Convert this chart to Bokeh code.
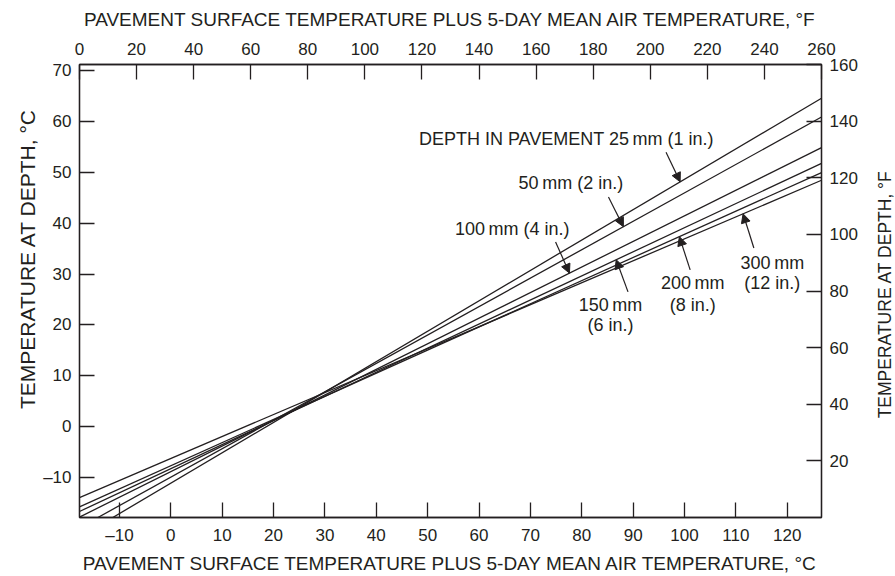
import numpy as np
from bokeh.plotting import figure
from bokeh.layouts import row
from bokeh.models import Range1d, LinearAxis, FixedTicker, Arrow, NormalHead
from bokeh.embed import file_html
from bokeh.resources import INLINE
from bokeh.core.properties import value

# ---------------- data (°C) ----------------
depths_mm = [25, 50, 100, 150, 200, 300]
# each depth line: start and end points (surface temp °C, temp at depth °C)
line_x_start = [-11.3, -14.2, -17.78, -17.78, -17.78, -17.78]
line_y_start = [-17.78, -17.78, -17.7, -16.6, -15.7, -13.86]
line_x_end = [126.67, 126.67, 126.67, 126.67, 126.67, 126.67]
line_y_end = [64.5, 60.8, 54.8, 51.7, 49.9, 48.4]

bottom_ticks_c = [-10, 0, 10, 20, 30, 40, 50, 60, 70, 80, 90, 100, 110, 120]
left_ticks_c = [-10, 0, 10, 20, 30, 40, 50, 60, 70]
top_ticks_f = [0, 20, 40, 60, 80, 100, 120, 140, 160, 180, 200, 220, 240, 260]
right_ticks_f = [20, 40, 60, 80, 100, 120, 140, 160]

x_title_f = "PAVEMENT SURFACE TEMPERATURE PLUS 5-DAY MEAN AIR TEMPERATURE, °F"
x_title_c = "PAVEMENT SURFACE TEMPERATURE PLUS 5-DAY MEAN AIR TEMPERATURE, °C"
y_title_c = "TEMPERATURE AT DEPTH, °C"
y_title_f = "TEMPERATURE AT DEPTH, °F"

# ---------------- layout / styling ----------------
INK = "#231f20"
FONT = "Liberation Sans"
W, H = 895, 576
LEFT_STRIP, RIGHT_STRIP = 40, 21          # narrow panels holding the vertical titles
FW, FH = 744, 454
MAIN_W = W - LEFT_STRIP - RIGHT_STRIP

def f2c(f):
    return (f - 32.0) / 1.8

p = figure(width=MAIN_W, height=H,
           x_range=Range1d(f2c(0), f2c(260)), y_range=Range1d(f2c(0), f2c(160)),
           output_backend="svg", toolbar_location=None,
           min_border_left=77 - LEFT_STRIP, min_border_right=MAIN_W - (77 - LEFT_STRIP) - FW,
           min_border_top=64, min_border_bottom=H - 64 - FH,
           x_axis_location="below", y_axis_location="left")
p.extra_x_ranges = {"F": Range1d(0, 260)}
p.extra_y_ranges = {"F": Range1d(0, 160)}
p.xgrid.visible = False
p.ygrid.visible = False
p.outline_line_color = INK
p.outline_line_width = 1.3
p.background_fill_color = "white"
p.border_fill_color = "white"

def style_ticks(ax, ticks, label_standoff):
    ax.ticker = FixedTicker(ticks=ticks)
    ax.major_label_overrides = {t: ("\u2013" + str(abs(t)) if t < 0 else str(t)) for t in ticks}
    ax.major_tick_in = 15
    ax.major_tick_out = 0
    ax.minor_tick_in = 0
    ax.minor_tick_out = 0
    ax.major_tick_line_color = INK
    ax.major_tick_line_width = 1.3
    ax.axis_line_color = INK
    ax.axis_line_width = 1.3
    ax.major_label_text_font = FONT
    ax.major_label_text_font_size = "17px"
    ax.major_label_text_color = INK
    ax.major_label_standoff = label_standoff

def style_title(ax, title, size, standoff):
    ax.axis_label = title
    ax.axis_label_text_font = FONT
    ax.axis_label_text_font_size = size
    ax.axis_label_text_font_style = "normal"
    ax.axis_label_text_color = INK
    ax.axis_label_standoff = standoff

# bottom (°C)
style_ticks(p.xaxis[0], bottom_ticks_c, 8)
style_title(p.xaxis[0], x_title_c, "19px", 5)
# left (°C)
style_ticks(p.yaxis[0], left_ticks_c, 8)
# top (°F)
top_ax = LinearAxis(x_range_name="F")
style_ticks(top_ax, top_ticks_f, 10)
style_title(top_ax, x_title_f, "19px", 10)
p.add_layout(top_ax, "above")
# right (°F)
right_ax = LinearAxis(y_range_name="F")
style_ticks(right_ax, right_ticks_f, 8)
p.add_layout(right_ax, "right")

# ---------------- depth lines ----------------
xs = [[a, b] for a, b in zip(line_x_start, line_x_end)]
ys = [[a, b] for a, b in zip(line_y_start, line_y_end)]
p.multi_line(xs=xs, ys=ys, line_color=INK, line_width=1.3)

def y_on_line(i, x):
    return float(np.interp(x, [line_x_start[i], line_x_end[i]], [line_y_start[i], line_y_end[i]]))

# ---------------- annotations ----------------
# (depth index, tail x, tail y, head x) in data units
arrows = [
    (0, 96.4, 53.9, 99.15),
    (1, 85.2, 45.1, 88.1),
    (2, 74.9, 36.3, 77.6),
    (3, 89.0, 26.5, 86.7),
    (4, 101.1, 30.8, 99.0),
    (5, 113.5, 35.1, 111.4),
]
for i, xt, yt, xh in arrows:
    p.add_layout(Arrow(x_start=xt, y_start=yt, x_end=xh, y_end=y_on_line(i, xh),
                       line_color=INK, line_width=1.2,
                       end=NormalHead(size=9, fill_color=INK, line_color=INK, line_width=1)))

TS = "\u2009"
left_texts = [
    (48.3, 56.5, "DEPTH IN PAVEMENT 25" + TS + "mm (1 in.)"),
    (67.7, 47.9, "50" + TS + "mm (2 in.)"),
    (55.3, 38.9, "100" + TS + "mm (4 in.)"),
]
center_texts = [
    (85.6, 24.0, "150" + TS + "mm"),
    (85.6, 19.9, "(6 in.)"),
    (101.6, 28.2, "200" + TS + "mm"),
    (101.6, 23.9, "(8 in.)"),
    (117.1, 32.1, "300" + TS + "mm"),
    (117.1, 28.2, "(12 in.)"),
]
p.text(x=[t[0] for t in left_texts], y=[t[1] for t in left_texts], text=[t[2] for t in left_texts],
       text_font=value(FONT), text_font_size="18px", text_color=INK,
       text_align="left", text_baseline="middle")
p.text(x=[t[0] for t in center_texts], y=[t[1] for t in center_texts], text=[t[2] for t in center_texts],
       text_font=value(FONT), text_font_size="18px", text_color=INK,
       text_align="center", text_baseline="middle")

# ---------------- vertical axis titles in narrow side strips ----------------
def title_strip(width, text, x, y, size):
    s = figure(width=width, height=H, x_range=Range1d(0, width), y_range=Range1d(H, 0),
               x_axis_type=None, y_axis_type=None, min_border=0,
               output_backend="svg", toolbar_location=None)
    s.outline_line_color = None
    s.xgrid.visible = False
    s.ygrid.visible = False
    s.background_fill_color = "white"
    s.border_fill_color = "white"
    s.text(x=[x], y=[y], text=[text], angle=np.pi / 2,
           text_font=value(FONT), text_font_size=size, text_color=INK,
           text_align="center", text_baseline="middle")
    return s

left_strip = title_strip(LEFT_STRIP, y_title_c, 27.0, 247, "21px")
right_strip = title_strip(RIGHT_STRIP, y_title_f, 10.5, 292, "17.5px")

layout = row(left_strip, p, right_strip, spacing=0)
open("out.html", "w").write(file_html(layout, INLINE))
